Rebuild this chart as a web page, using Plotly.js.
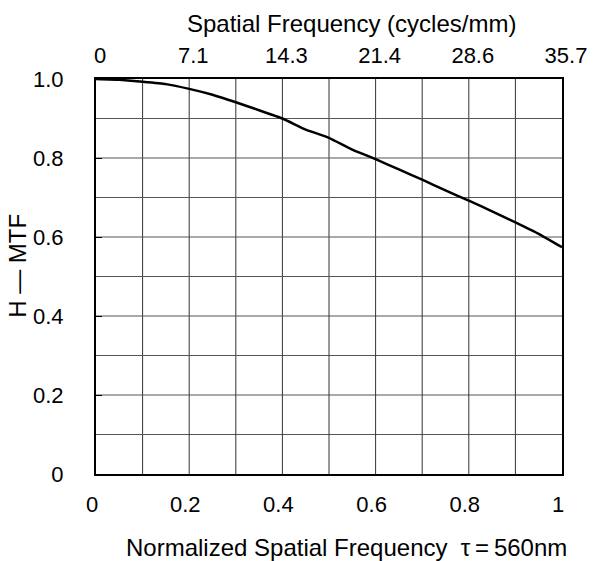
<!DOCTYPE html>
<html>
<head>
<meta charset="utf-8">
<script src="https://cdn.plot.ly/plotly-3.0.1.min.js"></script>
<style>html,body{margin:0;padding:0;background:#fff;}#chart{width:596px;height:561px;}</style>
</head>
<body>
<div id="chart"></div>
<script>
// Normalized spatial frequency (bottom axis) and MTF values
const normFreq = [0, 0.05, 0.1, 0.15, 0.2, 0.25, 0.3, 0.35, 0.4, 0.45, 0.5, 0.55, 0.6, 0.65, 0.7, 0.75, 0.8, 0.85, 0.9, 0.95, 1.0];
const mtf      = [1.0, 0.998, 0.993, 0.987, 0.975, 0.96, 0.941, 0.921, 0.900, 0.872, 0.851, 0.821, 0.797, 0.771, 0.745, 0.718, 0.692, 0.665, 0.637, 0.608, 0.574];
// Tick labels
const bottomTickVals = [0, 0.2, 0.4, 0.6, 0.8, 1];
const bottomTickText = ["0", "0.2", "0.4", "0.6", "0.8", "1"];
const topTickText = ["0", "7.1", "14.3", "21.4", "28.6", "35.7"];
const yTickVals = [0, 0.2, 0.4, 0.6, 0.8, 1.0];
const yTickText = ["0", "0.2", "0.4", "0.6", "0.8", "1.0"];

const FONT = "Liberation Sans, Arial, sans-serif";
const fs = 22;   // tick labels
const ts = 24;   // titles

const trace = {
  x: normFreq, y: mtf, type: 'scatter', mode: 'lines',
  line: {color: '#000', width: 2.5, shape: 'spline', smoothing: 0.3},
  hoverinfo: 'skip', showlegend: false, xaxis: 'x', yaxis: 'y'
};
const ghost2 = {
  x: [0, 1], y: [0, 0], type: 'scatter', mode: 'markers', marker: {opacity: 0},
  hoverinfo: 'skip', showlegend: false, xaxis: 'x2', yaxis: 'y'
};

const layout = {
  width: 596, height: 561,
  margin: {l: 96, r: 34, t: 79, b: 87},
  paper_bgcolor: '#fff', plot_bgcolor: '#fff',
  font: {family: FONT, size: fs, color: '#000'},
  xaxis: {
    range: [0, 1],
    tickmode: 'array', tickvals: bottomTickVals, ticktext: bottomTickText,
    showgrid: false, zeroline: false,
    showline: true, linecolor: '#000', linewidth: 2, mirror: true,
    ticks: '', ticklabelstandoff: 10, ticklabelshift: -4,
    tickfont: {family: FONT, size: fs, color: '#000'}
  },
  xaxis2: {
    range: [0, 1], overlaying: 'x', side: 'top', anchor: 'y',
    tickmode: 'array', tickvals: bottomTickVals, ticktext: topTickText,
    showgrid: false, zeroline: false, showline: false,
    ticks: '', ticklabelstandoff: 11, ticklabelshift: 4,
    tickfont: {family: FONT, size: fs, color: '#000'}
  },
  yaxis: {
    range: [0, 1],
    tickmode: 'array', tickvals: yTickVals, ticktext: yTickText,
    showgrid: false, zeroline: false,
    showline: true, linecolor: '#000', linewidth: 2, mirror: true,
    ticks: 'inside', ticklen: 6, tickwidth: 1, tickcolor: '#000',
    ticklabelstandoff: 26,
    tickfont: {family: FONT, size: fs, color: '#000'}
  },
  shapes: [],
  annotations: [
    {text: 'Spatial Frequency (cycles/mm)', xref: 'paper', yref: 'paper', x: 0.548, y: 1, yshift: 56, showarrow: false, xanchor: 'center', yanchor: 'middle', font: {family: FONT, size: ts, color: '#000'}},
    {text: 'Normalized Spatial Frequency  \u03c4\u2009=\u2009560nm', xref: 'paper', yref: 'paper', x: 0.538, y: 0, yshift: -73, showarrow: false, xanchor: 'center', yanchor: 'middle', font: {family: FONT, size: ts, color: '#000'}},
    {text: 'H \u2014 MTF', xref: 'paper', yref: 'paper', x: 0, xshift: -78, y: 0.527, showarrow: false, textangle: -90, xanchor: 'center', yanchor: 'middle', font: {family: FONT, size: ts, color: '#000'}}
  ]
};
// grid lines every 0.1
for (let i = 1; i < 10; i++) {
  const v = i / 10;
  layout.shapes.push({type: 'line', xref: 'x', yref: 'paper', x0: v, x1: v, y0: 0, y1: 1, line: {color: '#333', width: 1}, layer: 'below'});
  layout.shapes.push({type: 'line', xref: 'paper', yref: 'y', x0: 0, x1: 1, y0: v, y1: v, line: {color: '#555', width: 1}, layer: 'below'});
}

Plotly.newPlot('chart', [trace, ghost2], layout, {staticPlot: true, displayModeBar: false});
</script>
</body>
</html>
